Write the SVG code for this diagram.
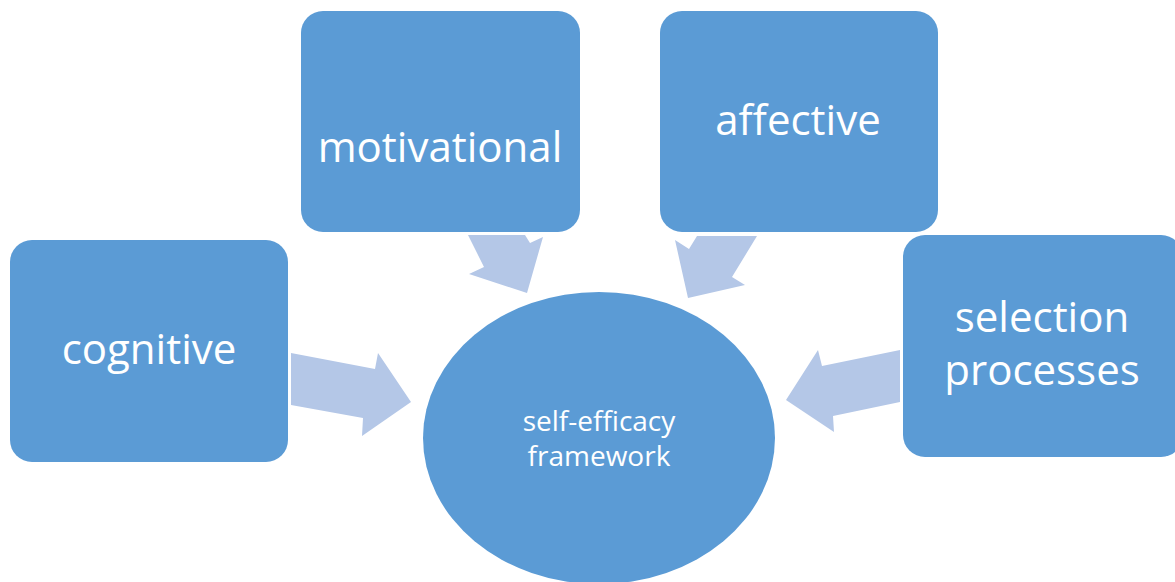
<svg xmlns="http://www.w3.org/2000/svg" width="1175" height="582" viewBox="0 0 1175 582">
<style>
.box{fill:#5B9BD5;}
.arr{fill:#B4C7E7;}
.t{fill:#FFFFFF;font-family:"Open Sans","Liberation Sans",sans-serif;text-anchor:middle;}
.big{font-size:42px;}
.small{font-size:28px;}
</style>
<rect width="1175" height="582" fill="#FFFFFF"/>
<g id="connectors">
<polygon class="arr" points="291,353 375,369 378,353 411,402 362,436 363,418 291,405"/>
<polygon class="arr" points="468,235 525,235 530,243 543,237 527,293 469,274 484,267"/>
<polygon class="arr" points="675,240 689,249 697,236 757,236 732,277 745,285 688,298"/>
<polygon class="arr" points="900,350 822,366 818,350 786,400 834,432 833,416 900,402"/>
</g>
<g id="node-cognitive">
<rect class="box" x="10" y="240" width="278" height="222" rx="22"/>
<text class="t big" x="149" y="364">cognitive</text>
</g>
<g id="node-motivational">
<rect class="box" x="301" y="11" width="279" height="221" rx="22"/>
<text class="t big" x="440" y="162">motivational</text>
</g>
<g id="node-affective">
<rect class="box" x="660" y="11" width="278" height="221" rx="22"/>
<text class="t big" x="798" y="135">affective</text>
</g>
<g id="node-selection">
<rect class="box" x="903" y="235" width="280" height="222" rx="22"/>
<text class="t big" x="1042" y="332">selection</text>
<text class="t big" x="1042" y="385">processes</text>
</g>
<g id="node-framework">
<ellipse class="box" cx="599" cy="438" rx="176" ry="146"/>
<text class="t small" x="599" y="431">self-efficacy</text>
<text class="t small" x="599" y="466">framework</text>
</g>
</svg>
